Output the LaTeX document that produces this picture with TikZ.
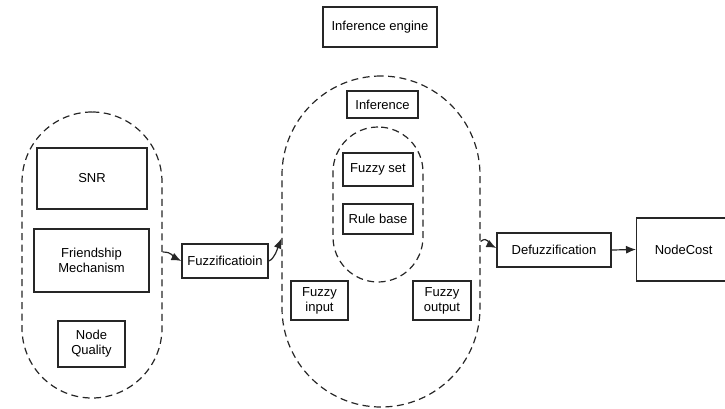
\documentclass[tikz,border=0pt]{standalone}
\usepackage{fontspec}
\setmainfont{Liberation Sans}
\usetikzlibrary{arrows.meta}
\begin{document}
\begin{tikzpicture}[x=1pt,y=-1pt,
  box/.style={draw=black!85, line width=1.3pt, align=center, inner sep=1pt, font=\fontsize{13}{15}\selectfont},
  stadium/.style={draw=black!85, line width=1.2pt, dash pattern=on 7pt off 4.5pt},
  arr/.style={-{Latex[length=10pt,width=8pt]}, line width=1.2pt, black!85}]
\useasboundingbox (0,0) rectangle (725,408);
% groups
\node[stadium, minimum width=140pt, minimum height=286pt, rounded corners=70pt] (grp1) at (92,255) {};
\node[stadium, minimum width=198pt, minimum height=331pt, rounded corners=99pt] (grp2) at (381,241.5) {};
\node[stadium, minimum width=90pt, minimum height=155pt, rounded corners=45pt] (grp3) at (378,204.5) {};
% boxes
\node[box, minimum width=114pt, minimum height=40pt] (ie) at (380,27) {Inference engine};
\node[box, minimum width=110pt, minimum height=61pt] (snr) at (92,178.5) {SNR};
\node[box, minimum width=115pt, minimum height=63pt] (fm) at (91.5,260.5) {Friendship\\Mechanism};
\node[box, minimum width=67pt, minimum height=46pt] (nq) at (91.5,344) {Node\\Quality};
\node[box, minimum width=86pt, minimum height=34pt] (fuzz) at (225,261) {Fuzzificatioin};
\node[box, minimum width=71pt, minimum height=27pt] (inf) at (382.5,104.5) {Inference};
\node[box, minimum width=70pt, minimum height=33pt] (fs) at (378,169.5) {Fuzzy set};
\node[box, minimum width=70pt, minimum height=30pt] (rb) at (378,219) {Rule base};
\node[box, minimum width=57pt, minimum height=39pt] (fi) at (319.5,300.5) {Fuzzy\\input};
\node[box, minimum width=58pt, minimum height=39pt] (fo) at (442,300.5) {Fuzzy\\output};
\node[box, minimum width=114pt, minimum height=34pt] (defuzz) at (554,250) {Defuzzification};
\node[box, minimum height=63pt, anchor=west] (nc) at (636,249.5) {\makebox[92pt]{NodeCost}\hspace*{30pt}};
% connectors
\draw[arr] ([yshift=3pt]grp1.east) .. controls +(10,0) and +(-8,-4) .. (fuzz.west);
\draw[arr] (fuzz.east) .. controls +(6,-2) and +(-4,10) .. ([yshift=3pt]grp2.west);
\draw[arr] (grp2.east) .. controls +(7,-6) and +(-6,-3) .. ([yshift=2pt]defuzz.west);
\draw[arr] (defuzz.east) -- (nc.west);
\end{tikzpicture}
\end{document}
